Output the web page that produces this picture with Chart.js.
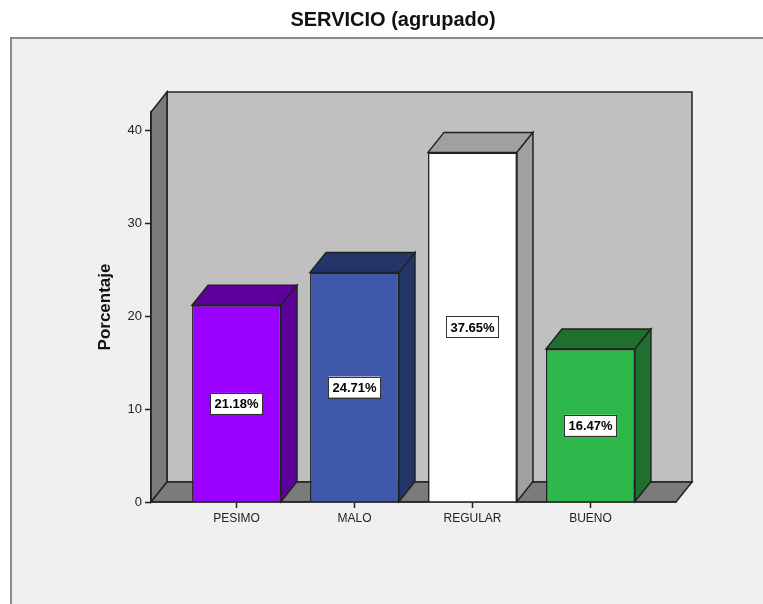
<!DOCTYPE html>
<html>
<head>
<meta charset="utf-8">
<script src="https://cdn.jsdelivr.net/npm/chart.js@4/dist/chart.umd.min.js"></script>
<style>
  html, body { margin: 0; padding: 0; background: #ffffff; }
  #c { display: block; }
</style>
</head>
<body>
<canvas id="c" width="763" height="604"></canvas>
<script>
// ---- data ----
const chartTitle = 'SERVICIO (agrupado)';
const yAxisTitle = 'Porcentaje';
const categories = ['PESIMO', 'MALO', 'REGULAR', 'BUENO'];
const percentages = [21.18, 24.71, 37.65, 16.47];
const yTicks = [0, 10, 20, 30, 40];

// ---- styles ----
const frontColors = ['#9900ff', '#3f58a9', '#ffffff', '#2eb84b'];
const shadeColors = ['#5e009c', '#243668', '#a0a0a0', '#1f6f2f'];
const DEPTH_X = 16, DEPTH_Y = -20;
const EDGE = '#222222';

const scenePlugin = {
  id: 'scene3d',
  beforeDraw(chart) {
    const ctx = chart.ctx;
    const a = chart.chartArea;
    ctx.save();
    ctx.fillStyle = '#ffffff';
    ctx.fillRect(0, 0, chart.width, chart.height);
    // outer frame
    ctx.fillStyle = '#f0f0f0';
    ctx.fillRect(11, 38, chart.width, chart.height);
    ctx.strokeStyle = '#8a8a8a';
    ctx.lineWidth = 2;
    ctx.beginPath();
    ctx.moveTo(11, chart.height + 5);
    ctx.lineTo(11, 38);
    ctx.lineTo(chart.width + 5, 38);
    ctx.stroke();

    ctx.lineWidth = 1.5;
    ctx.strokeStyle = EDGE;
    ctx.lineJoin = 'miter';
    // back wall
    ctx.fillStyle = '#c0c0c0';
    ctx.beginPath();
    ctx.rect(a.left + DEPTH_X, a.top + DEPTH_Y, a.right - a.left, a.bottom - a.top);
    ctx.fill(); ctx.stroke();
    // left wall
    ctx.fillStyle = '#7b7b7b';
    ctx.beginPath();
    ctx.moveTo(a.left, a.bottom);
    ctx.lineTo(a.left, a.top);
    ctx.lineTo(a.left + DEPTH_X, a.top + DEPTH_Y);
    ctx.lineTo(a.left + DEPTH_X, a.bottom + DEPTH_Y);
    ctx.closePath();
    ctx.fill(); ctx.stroke();
    // floor
    ctx.beginPath();
    ctx.moveTo(a.left, a.bottom);
    ctx.lineTo(a.right, a.bottom);
    ctx.lineTo(a.right + DEPTH_X, a.bottom + DEPTH_Y);
    ctx.lineTo(a.left + DEPTH_X, a.bottom + DEPTH_Y);
    ctx.closePath();
    ctx.fill(); ctx.stroke();
    ctx.restore();
  },
  afterDatasetsDraw(chart) {
    const ctx = chart.ctx;
    const meta = chart.getDatasetMeta(0);
    ctx.save();
    ctx.lineWidth = 1.5;
    ctx.strokeStyle = EDGE;
    meta.data.forEach((bar, i) => {
      const p = bar.getProps(['x', 'y', 'base', 'width'], true);
      const l = p.x - p.width / 2, r = p.x + p.width / 2;
      const t = p.y, b = p.base;
      ctx.fillStyle = shadeColors[i];
      // top
      ctx.beginPath();
      ctx.moveTo(l, t);
      ctx.lineTo(l + DEPTH_X, t + DEPTH_Y);
      ctx.lineTo(r + DEPTH_X, t + DEPTH_Y);
      ctx.lineTo(r, t);
      ctx.closePath();
      ctx.fill(); ctx.stroke();
      // side
      ctx.beginPath();
      ctx.moveTo(r, t);
      ctx.lineTo(r + DEPTH_X, t + DEPTH_Y);
      ctx.lineTo(r + DEPTH_X, b + DEPTH_Y);
      ctx.lineTo(r, b);
      ctx.closePath();
      ctx.fill(); ctx.stroke();
    });
    // value labels
    ctx.font = 'bold 13px "Liberation Sans", Arial, sans-serif';
    ctx.textAlign = 'center';
    ctx.textBaseline = 'middle';
    meta.data.forEach((bar, i) => {
      const p = bar.getProps(['x', 'y', 'base'], true);
      const cy = (p.y + p.base) / 2;
      const txt = percentages[i].toFixed(2) + '%';
      const w = ctx.measureText(txt).width + 8;
      const h = 21;
      ctx.fillStyle = '#ffffff';
      ctx.fillRect(p.x - w / 2, cy - h / 2, w, h);
      ctx.lineWidth = 1;
      ctx.strokeStyle = '#333333';
      ctx.strokeRect(Math.round(p.x - w / 2) + 0.5, Math.round(cy - h / 2) + 0.5, Math.round(w), h);
      ctx.fillStyle = '#000000';
      ctx.fillText(txt, p.x, cy + 1);
    });
    ctx.restore();
  }
};

new Chart(document.getElementById('c'), {
  type: 'bar',
  data: {
    datasets: [{
      data: percentages.map((v, i) => ({ x: i, y: v })),
      backgroundColor: frontColors,
      borderColor: EDGE,
      borderWidth: 1.5,
      barPercentage: 0.754,
      categoryPercentage: 1
    }]
  },
  options: {
    responsive: false,
    animation: false,
    devicePixelRatio: 1,
    layout: { padding: { left: 110, right: 87, top: 0, bottom: 62 } },
    plugins: {
      legend: { display: false },
      tooltip: { enabled: false },
      title: {
        display: true,
        text: chartTitle,
        color: '#111111',
        font: { family: '"Liberation Sans", Arial, sans-serif', size: 20, weight: 'bold' },
        padding: { top: 8, bottom: 80 }
      }
    },
    scales: {
      x: {
        type: 'linear',
        min: -0.725,
        max: 3.725,
        offset: false,
        afterBuildTicks(scale) { scale.ticks = categories.map((c, i) => ({ value: i })); },
        afterFit(scale) { scale.height = 40; },
        ticks: {
          autoSkip: false,
          maxRotation: 0,
          padding: 3,
          color: '#222222',
          font: { family: '"Liberation Sans", Arial, sans-serif', size: 12 },
          callback: (v) => categories[v] !== undefined ? categories[v] : ''
        },
        grid: { offset: false, drawOnChartArea: false, drawTicks: true, tickLength: 6, tickColor: EDGE, tickWidth: 1.5 },
        border: { display: true, color: EDGE, width: 1.5 }
      },
      y: {
        min: 0,
        max: 42,
        afterBuildTicks(scale) { scale.ticks = yTicks.map(v => ({ value: v })); },
        afterFit(scale) { scale.width = 41; },
        ticks: {
          includeBounds: false,
          padding: 3,
          color: '#222222',
          font: { family: '"Liberation Sans", Arial, sans-serif', size: 13 }
        },
        grid: { drawOnChartArea: false, drawTicks: true, tickLength: 6, tickColor: EDGE, tickWidth: 1.5 },
        border: { display: true, color: EDGE, width: 1.5 },
        title: {
          display: true,
          text: yAxisTitle,
          color: '#111111',
          font: { family: '"Liberation Sans", Arial, sans-serif', size: 17, weight: 'bold' },
          padding: { top: -15, bottom: 0 }
        }
      }
    }
  },
  plugins: [scenePlugin]
});
</script>
</body>
</html>
